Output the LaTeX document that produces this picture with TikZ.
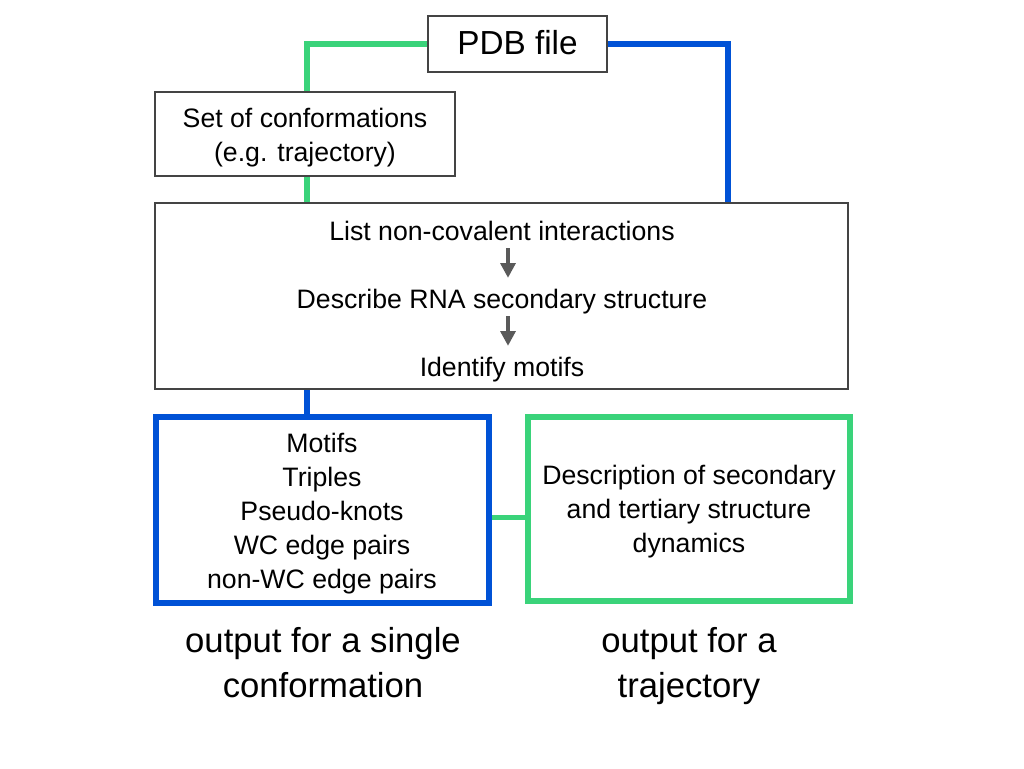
\documentclass[tikz,border=0pt]{standalone}
\usepackage{fontspec}
\setmainfont{Liberation Sans}
\usetikzlibrary{arrows.meta}
\definecolor{trajgreen}{RGB}{58,211,122}
\definecolor{singleblue}{RGB}{0,82,214}
\definecolor{boxgray}{RGB}{68,68,68}
\definecolor{arrowgray}{RGB}{90,90,90}
\begin{document}
\begin{tikzpicture}[x=0.75pt,y=-0.75pt,
    graybox/.style={draw=boxgray,line width=1.5pt,inner sep=0pt},
    outbox/.style={line width=4.5pt,inner sep=0pt},
    boxtext/.style={inner sep=0pt,align=center,font=\fontsize{20}{25.5}\selectfont},
    wire/.style={line width=4pt},
    steptext/.style={inner sep=0pt,text height=14.6pt,text depth=4.2pt,font=\fontsize{20}{25.5}\selectfont},
    steparrow/.style={draw=arrowgray,line width=3pt,shorten <=1pt,shorten >=8.5pt,-{Triangle[length=11pt,width=11pt]}},
    outlabel/.style={align=center,font=\fontsize{26}{33.75}\selectfont}]
    \useasboundingbox (0,0) rectangle (1024,768);
    %% inputs
    \node[graybox,minimum width=134.25pt,minimum height=42pt,text height=18pt,text depth=3pt,font=\fontsize{25}{30}\selectfont] (pdb) at (517.5,44) {PDB file};
    \node[graybox,minimum width=225pt,minimum height=63pt] (conf) at (305,134) {};
    \node[boxtext] (conftext) at (305,138) {Set of conformations\\(e.g. trajectory)};
    %% analysis steps
    \node[graybox,minimum width=519.75pt,minimum height=139.5pt] (steps) at (501.5,296) {};
    \node[steptext] (list) at (502,234) {List non-covalent interactions};
    \node[steptext] (desc) at (502,302) {Describe RNA secondary structure};
    \node[steptext] (ident) at (502,370) {Identify motifs};
    \coordinate (arrowx) at (508,0);
    \draw[steparrow] (list.south -| arrowx) -- (desc.north -| arrowx);
    \draw[steparrow] (desc.south -| arrowx) -- (ident.north -| arrowx);
    %% outputs
    \node[outbox,draw=singleblue,minimum width=249.75pt,minimum height=139.5pt] (single) at (322.5,510) {};
    \node[boxtext] (singletext) at (322,514) {Motifs\\Triples\\Pseudo-knots\\WC edge pairs\\non-WC edge pairs};
    \node[outbox,draw=trajgreen,minimum width=241.5pt,minimum height=138pt] (traj) at (689,509) {};
    \node[boxtext] (trajtext) at (689,512) {Description of secondary\\and tertiary structure\\dynamics};
    \node[outlabel] (singlelabel) at (323,663) {output for a single\\conformation};
    \node[outlabel] (trajlabel) at (689,666) {output for a\\trajectory};
    %% connectors
    \coordinate (greenx) at (307,0);
    \coordinate (bluex) at (728,0);
    \coordinate (joiny) at (0,517.5);
    \draw[wire,trajgreen] (pdb.west) -| (conf.north -| greenx);
    \draw[wire,trajgreen] (conf.south -| greenx) -- (steps.north -| greenx);
    \draw[wire,singleblue] (pdb.east) -| (steps.north -| bluex);
    \draw[wire,singleblue] (steps.south -| greenx) -- (single.north -| greenx);
    \draw[wire,trajgreen] (single.east |- joiny) -- (traj.west |- joiny);
\end{tikzpicture}
\end{document}
